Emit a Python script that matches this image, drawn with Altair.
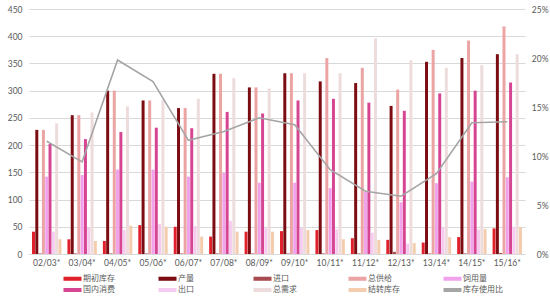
import altair as alt
import pandas as pd

categories = ['02/03*', '03/04*', '04/05*', '05/06*', '06/07*', '07/08*', '08/09*',
              '09/10*', '10/11*', '11/12*', '12/13*', '13/14*', '14/15*', '15/16*']

beginning_stock = [41, 27, 24, 53, 50, 32, 41, 42, 44, 29, 26, 21, 31, 47]
production = [228, 255, 300, 282, 268, 331, 306, 332, 317, 314, 272, 353, 360, 367]
imports = [1, 1, 1, 1, 1, 1, 1, 1, 1, 1, 4, 1, 1, 2]
total_supply = [228, 255, 300, 282, 268, 331, 306, 332, 360, 342, 302, 375, 392, 418]
feed_use = [142, 145, 155, 155, 142, 149, 131, 131, 121, 114, 95, 130, 133, 141]
domestic_use = [202, 211, 224, 232, 231, 261, 258, 282, 285, 278, 263, 295, 300, 315]
exports = [41, 48, 44, 55, 51, 61, 47, 48, 45, 39, 19, 49, 45, 50]
total_demand = [240, 260, 271, 283, 285, 323, 304, 332, 332, 396, 356, 342, 347, 367]
ending_stock = [27, 24, 52, 50, 32, 41, 41, 44, 27, 26, 20, 31, 46, 49]
stock_use_ratio = [11.5, 9.4, 19.8, 17.6, 11.6, 12.5, 13.9, 13.2, 8.6, 6.4, 5.9, 8.2, 13.4, 13.5]

bar_series = ['期初库存', '产量', '进口', '总供给', '饲用量', '国内消费', '出口', '总需求', '结转库存']
line_series = '库存使用比'
all_series = bar_series + [line_series]
colors = ['#E0202A', '#7B0C12', '#A84B50', '#EBA3A3', '#F0A3EC',
          '#D64592', '#F5CCF0', '#EEDCDD', '#F4CDAE', '#A5A5A5']

bar_values = [beginning_stock, production, imports, total_supply, feed_use,
              domestic_use, exports, total_demand, ending_stock]

rows = []
for s, vals in zip(bar_series, bar_values):
    for c, v in zip(categories, vals):
        rows.append({'cat': c, 'series': s, 'value': v})
bars_df = pd.DataFrame(rows)
line_df = pd.DataFrame({'cat': categories, 'ratio': [r / 100 for r in stock_use_ratio]})

FONT_NUM = 'Lato'
FONT_CJK = 'Noto Sans CJK SC'
TXT = '#595959'

x_enc = alt.X('cat:N', sort=categories, title=None,
              scale=alt.Scale(paddingInner=0.17, paddingOuter=0.085),
              axis=alt.Axis(labelAngle=0, ticks=False, domain=True, domainColor='#D9D9D9',
                            labelFont=FONT_NUM, labelFontSize=8.5, labelColor=TXT, labelPadding=4))

bars = alt.Chart(bars_df).mark_bar().encode(
    x=x_enc,
    xOffset=alt.XOffset('series:N', sort=bar_series, scale=alt.Scale(paddingInner=0.1)),
    y=alt.Y('value:Q', title=None,
            scale=alt.Scale(domain=[0, 450], nice=False),
            axis=alt.Axis(values=list(range(0, 451, 50)), ticks=False, domain=False,
                          gridColor='#D9D9D9', labelFont=FONT_NUM, labelFontSize=8.5,
                          labelColor=TXT, labelPadding=7)),
    color=alt.Color('series:N', scale=alt.Scale(domain=all_series, range=colors),
                    legend=alt.Legend(
                        title=None, orient='none', legendX=39, legendY=265,
                        direction='horizontal', columns=5, gridAlign='all',
                        columnPadding=35, rowPadding=2.5, padding=0,
                        symbolType='M-2,-0.45H2V0.45H-2Z', symbolSize=81,
                        symbolStrokeWidth=0, labelOffset=6,
                        labelFont=FONT_CJK, labelFontSize=8, labelColor=TXT))
)

line = alt.Chart(line_df).mark_line(color='#A5A5A5', strokeWidth=1.6).encode(
    x=alt.X('cat:N', sort=categories),
    y=alt.Y('ratio:Q', title=None,
            scale=alt.Scale(domain=[0, 0.25], nice=False),
            axis=alt.Axis(orient='right', format='.0%', values=[0, 0.05, 0.1, 0.15, 0.2, 0.25],
                          grid=False, ticks=False, domain=False, labelAlign='right',
                          labelPadding=23, labelFont=FONT_NUM, labelFontSize=8.5,
                          labelColor=TXT))
)

chart = alt.layer(bars, line).resolve_scale(y='independent').properties(
    width=496, height=245,
    autosize=alt.AutoSizeParams(type='none'),
    padding={'left': 29, 'top': 9, 'right': 25, 'bottom': 46},
    background='white'
).configure_view(stroke=None)

chart.save('out.html', embed_options={'renderer': 'svg', 'actions': False})
